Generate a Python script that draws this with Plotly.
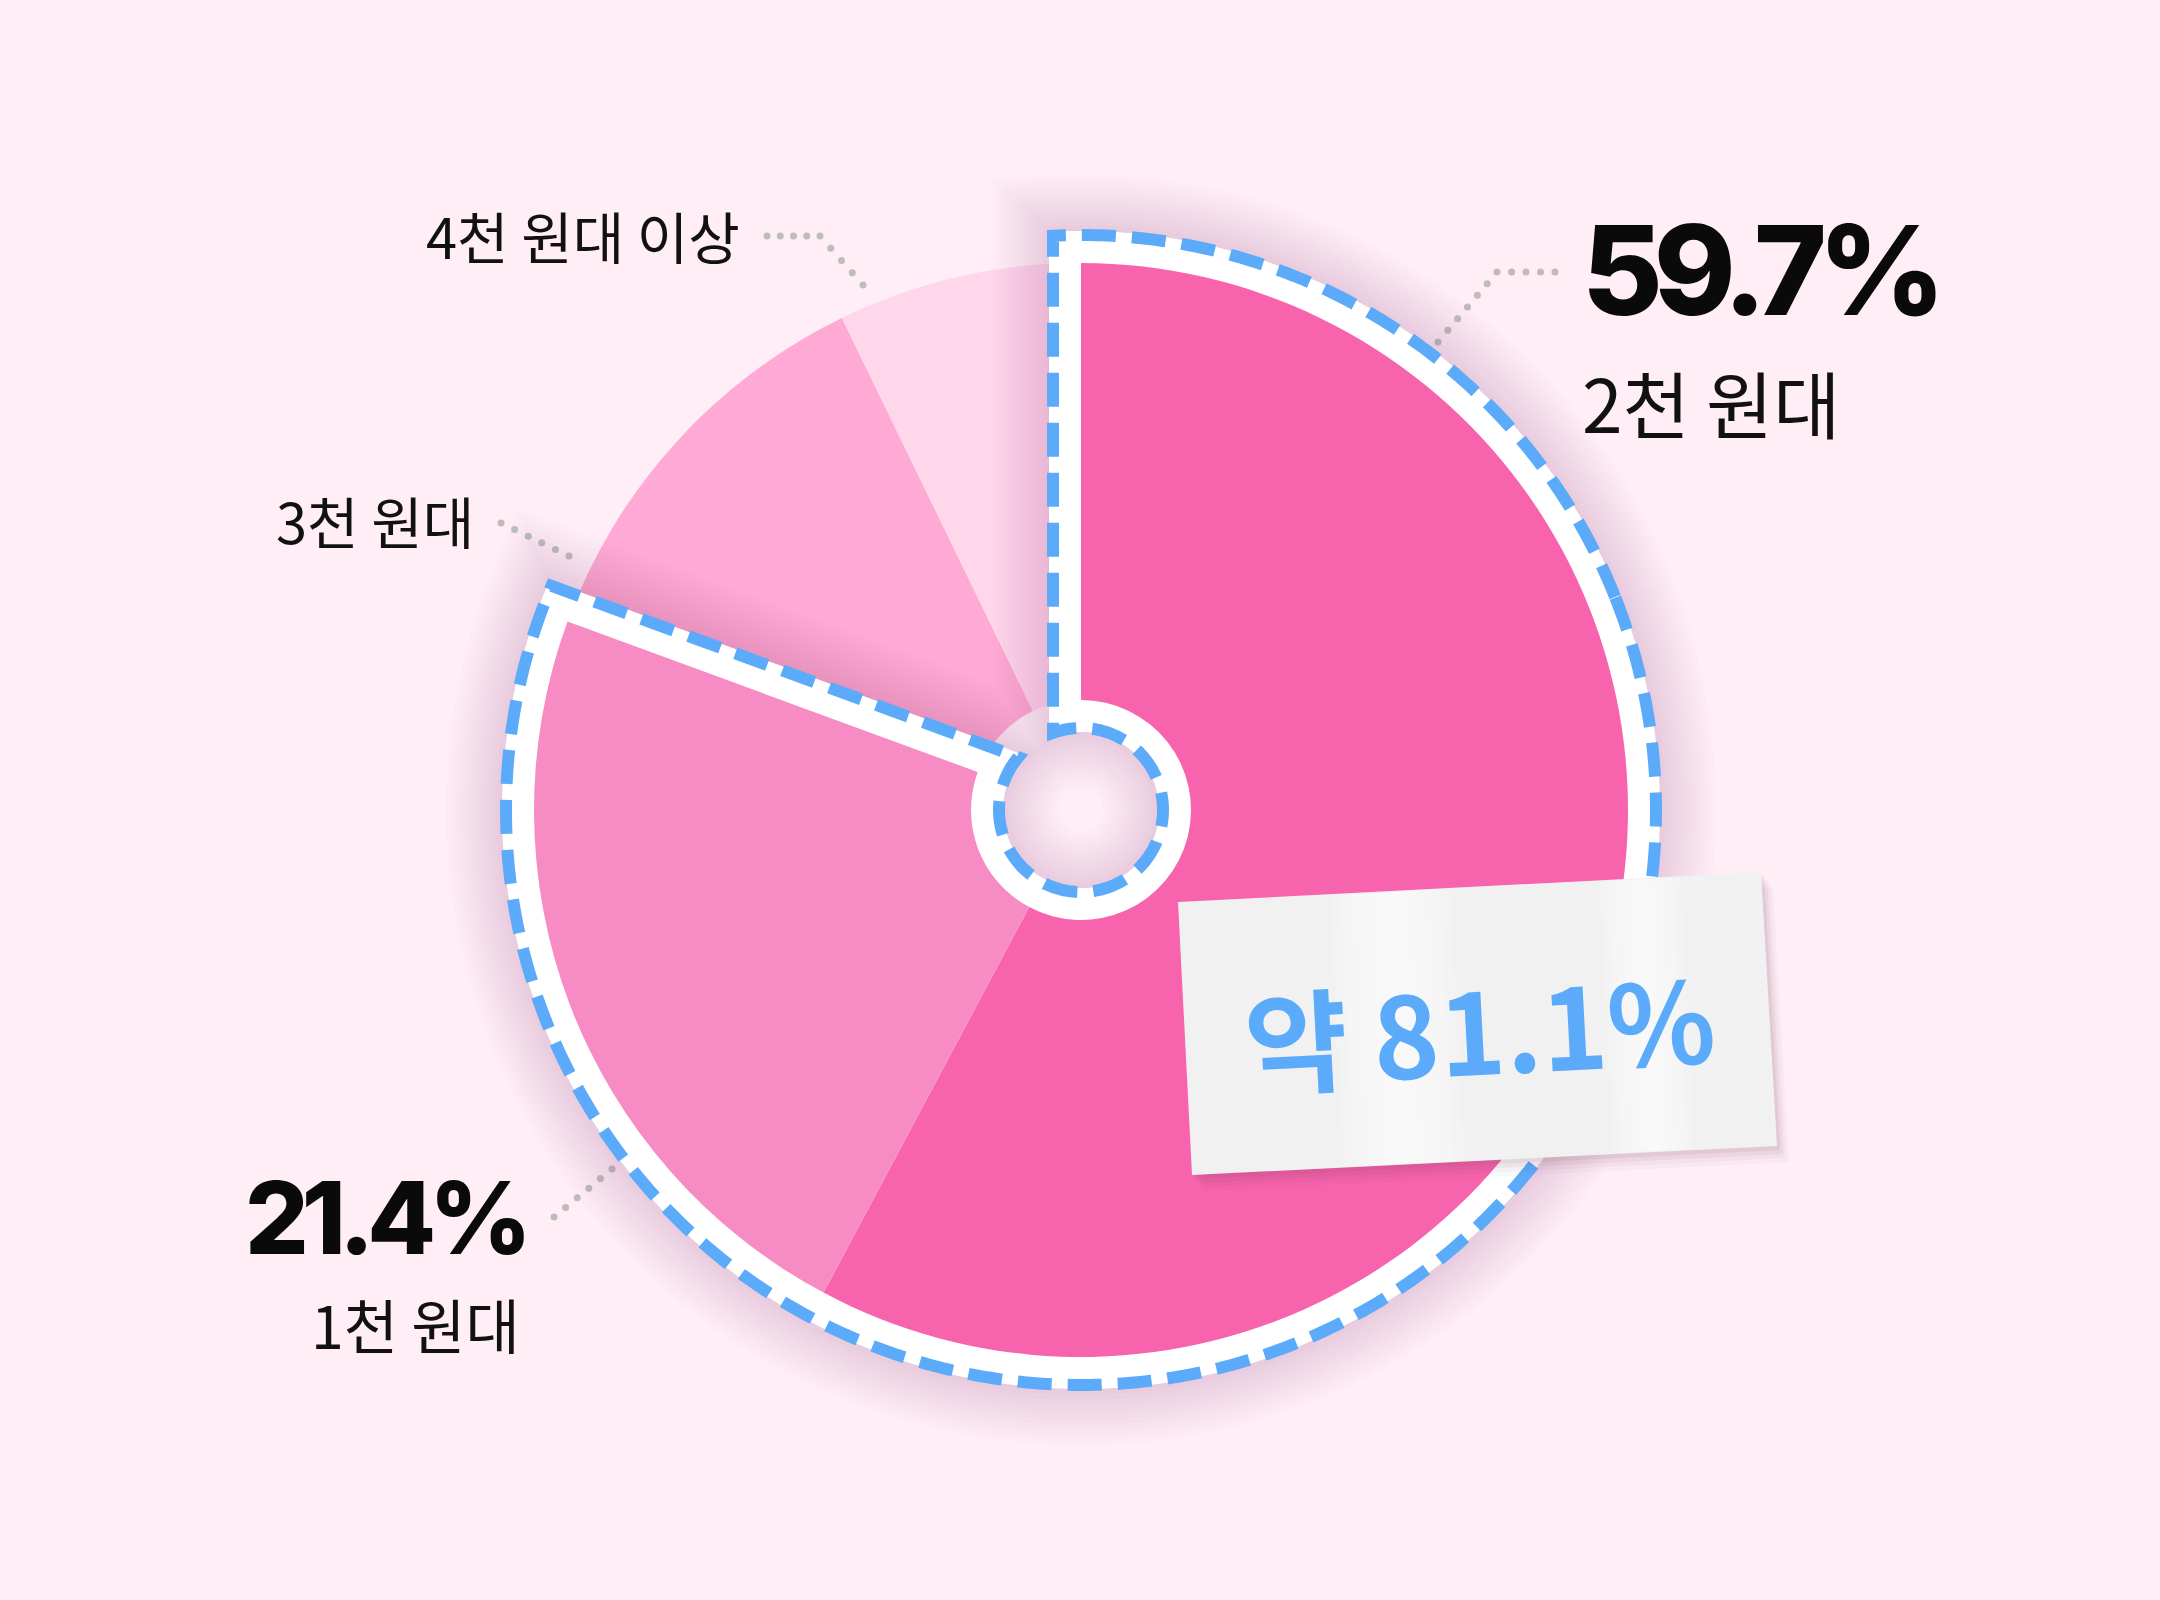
import numpy as np
import plotly.graph_objects as go

# ---------------- data ----------------
categories = ["2천 원대", "1천 원대", "3천 원대", "4천 원대 이상"]
# slice sizes as drawn in the picture (percent of the circle)
slice_shares = [57.8, 22.8, 12.2, 7.2]
# percentages printed next to the slices
label_pct = [59.7, 21.4]
slice_colors = ["#F763AC", "#F78BC4", "#FFAAD5", "#FFD7EB"]
highlight_idx = [0, 1]          # slices grouped by the dashed outline
note_prefix = "약"

# ---------------- geometry / style ----------------
W, H = 2160, 1600
CX, CY = 1081, 810
R_OUT, R_IN = 547, 110
PAD = 28
RMAX = 700
BG = "#FFEEF5"
BLUE = "#5BABFA"
DOT = "#BDBDBD"

widths = np.array(slice_shares) * 3.6
starts = np.concatenate([[0], np.cumsum(widths)[:-1]])
mids = starts + widths / 2

fig = go.Figure()

# lower polar layer: non-highlighted slices
for i in range(len(slice_shares)):
    if i in highlight_idx:
        continue
    fig.add_trace(go.Barpolar(
        r=[R_OUT - R_IN], base=[R_IN], theta=[mids[i]], width=[widths[i]],
        marker=dict(color=slice_colors[i], line=dict(width=0)),
        name=categories[i], hoverinfo="skip", showlegend=False, subplot="polar"))

# outline path of the highlighted group (offset outward by PAD)
t1 = float(sum(widths[j] for j in highlight_idx))
ro, ri = R_OUT + PAD, R_IN - PAD
ao = np.degrees(np.arcsin(PAD / ro))
ai = np.degrees(np.arcsin(PAD / ri))
outer_t = np.linspace(-ao, t1 + ao, 500)
inner_t = np.linspace(t1 + ai, -ai, 160)
ring_t = list(outer_t) + list(inner_t)
ring_r = [ro] * len(outer_t) + [ri] * len(inner_t)
# start the closed path in the middle of the outer arc so every corner is a join
k0 = 120
path_t = ring_t[k0:] + ring_t[:k0 + 1]
path_r = ring_r[k0:] + ring_r[:k0 + 1]

# soft shadow (many faint layers)
for w in range(120, 8, -10):
    fig.add_trace(go.Scatterpolar(
        r=path_r, theta=path_t, mode="lines",
        line=dict(color="rgba(130,70,100,0.017)", width=w),
        hoverinfo="skip", showlegend=False, cliponaxis=False, subplot="polar"))

# white band
fig.add_trace(go.Scatterpolar(
    r=path_r, theta=path_t, mode="lines", fill="toself", fillcolor="white",
    line=dict(color="white", width=8),
    hoverinfo="skip", showlegend=False, cliponaxis=False, subplot="polar"))

# upper polar layer: highlighted slices
for i in highlight_idx:
    fig.add_trace(go.Barpolar(
        r=[R_OUT - R_IN], base=[R_IN], theta=[mids[i]], width=[widths[i]],
        marker=dict(color=slice_colors[i], line=dict(width=0)),
        name=categories[i], hoverinfo="skip", showlegend=False, subplot="polar2"))

# blue dashed outline
fig.add_trace(go.Scatterpolar(
    r=path_r, theta=path_t, mode="lines",
    line=dict(color=BLUE, width=12, dash="34px,16px"),
    hoverinfo="skip", showlegend=False, cliponaxis=False, subplot="polar2"))

# ---------------- leader dots (pixel overlay axes) ----------------
def dots(poly, step=14.5):
    pts = []
    for (x0, y0), (x1, y1) in zip(poly[:-1], poly[1:]):
        L = np.hypot(x1 - x0, y1 - y0)
        n = max(int(round(L / step)), 1)
        for k in range(n):
            f = k / n
            pts.append((x0 + (x1 - x0) * f, y0 + (y1 - y0) * f))
    pts.append(poly[-1])
    return pts

leaders = [
    [(1555, 272), (1497, 272), (1438, 342)],
    [(767, 236), (820, 236), (863, 285)],
    [(501, 523), (569, 556)],
    [(554, 1217), (612, 1169)],
]
lx, ly = [], []
for poly in leaders:
    for x, y in dots(poly):
        lx.append(x); ly.append(y)
    lx.append(None); ly.append(None)
fig.add_trace(go.Scatter(x=lx, y=ly, mode="markers",
                         marker=dict(size=7, color=DOT),
                         hoverinfo="skip", showlegend=False))

# ---------------- sticky note ----------------
note = [(1178, 902), (1761, 872), (1777, 1146), (1192, 1175)]
def path_of(pts, dx=0, dy=0):
    return "M " + " L ".join(f"{x+dx} {y+dy}" for x, y in pts) + " Z"

for (dx, dy, a) in [(12, 16, 0.03), (9, 12, 0.04), (6, 8, 0.06), (3, 4, 0.08)]:
    fig.add_shape(type="path", path=path_of(note, dx, dy), xref="x", yref="y",
                  fillcolor=f"rgba(110,50,80,{a})", line=dict(width=0), layer="above")
fig.add_shape(type="path", path=path_of(note), xref="x", yref="y",
              fillcolor="#F1F1F1", line=dict(width=0), layer="above")
# soft light streaks on the paper
slope = (872 - 902) / (1761 - 1178)
for cx_s, half in [(1390, 60), (1640, 40)]:
    for k in range(6):
        hw = half * (1 - k / 6)
        x0, x1 = cx_s - hw, cx_s + hw
        top0 = 902 + slope * (x0 - 1178) + 1
        top1 = 902 + slope * (x1 - 1178) + 1
        bot0 = 1175 + slope * (x0 - 1192) - 1
        bot1 = 1175 + slope * (x1 - 1192) - 1
        streak = [(x0, top0), (x1, top1), (x1 + 14, bot1), (x0 + 14, bot0)]
        fig.add_shape(type="path", path=path_of(streak), xref="x", yref="y",
                      fillcolor="rgba(255,255,255,0.16)", line=dict(width=0), layer="above")

# ---------------- text ----------------
LAT = "Inter, Noto Sans CJK KR, sans-serif"
KR = "Noto Sans CJK KR, Inter, sans-serif"

def tight(s, px):
    return f'<span style="letter-spacing:{px}px">{s}</span>'

ann = []
ann.append(dict(x=1580, y=270, text=tight(f"{label_pct[0]}%", -9), xanchor="left", yanchor="middle",
                font=dict(family=LAT, size=124, color="#0A0A0A", weight=800)))
ann.append(dict(x=1580, y=401, text=categories[0], xanchor="left", yanchor="middle",
                font=dict(family=KR, size=73, color="#111111")))
ann.append(dict(x=527, y=1217, text=tight(f"{label_pct[1]}%", -7), xanchor="right", yanchor="middle",
                font=dict(family=LAT, size=100, color="#0A0A0A", weight=800)))
ann.append(dict(x=522, y=1323, text=categories[1], xanchor="right", yanchor="middle",
                font=dict(family=KR, size=59, color="#111111")))
ann.append(dict(x=476, y=519, text=categories[2], xanchor="right", yanchor="middle",
                font=dict(family=KR, size=56, color="#111111")))
ann.append(dict(x=742, y=234, text=categories[3], xanchor="right", yanchor="middle",
                font=dict(family=KR, size=56, color="#111111")))
total = sum(label_pct)
ann.append(dict(x=1479, y=1026, text=f"{note_prefix} {total:.1f}%", xanchor="center",
                yanchor="middle", textangle=-3,
                font=dict(family=KR, size=112, color=BLUE, weight=700)))
for a in ann:
    a.update(xref="x", yref="y", showarrow=False)

def polar_cfg():
    return dict(
        domain=dict(x=[(CX - RMAX) / W, (CX + RMAX) / W],
                    y=[(H - CY - RMAX) / H, (H - CY + RMAX) / H]),
        bgcolor="rgba(0,0,0,0)",
        radialaxis=dict(visible=False, range=[0, RMAX], autorange=False, showgrid=False),
        angularaxis=dict(visible=False, direction="clockwise", rotation=90,
                         showgrid=False, thetaunit="degrees"),
    )

fig.update_layout(
    width=W, height=H,
    margin=dict(l=0, r=0, t=0, b=0),
    paper_bgcolor=BG, plot_bgcolor=BG,
    xaxis=dict(range=[0, W], visible=False, domain=[0, 1], fixedrange=True),
    yaxis=dict(range=[H, 0], visible=False, domain=[0, 1], fixedrange=True),
    polar=polar_cfg(), polar2=polar_cfg(),
    annotations=ann,
    showlegend=False,
)

fig.write_html("out.html", config={"displayModeBar": False},
               post_script="document.body.style.margin='0';document.body.style.background='#FFEEF5';")
